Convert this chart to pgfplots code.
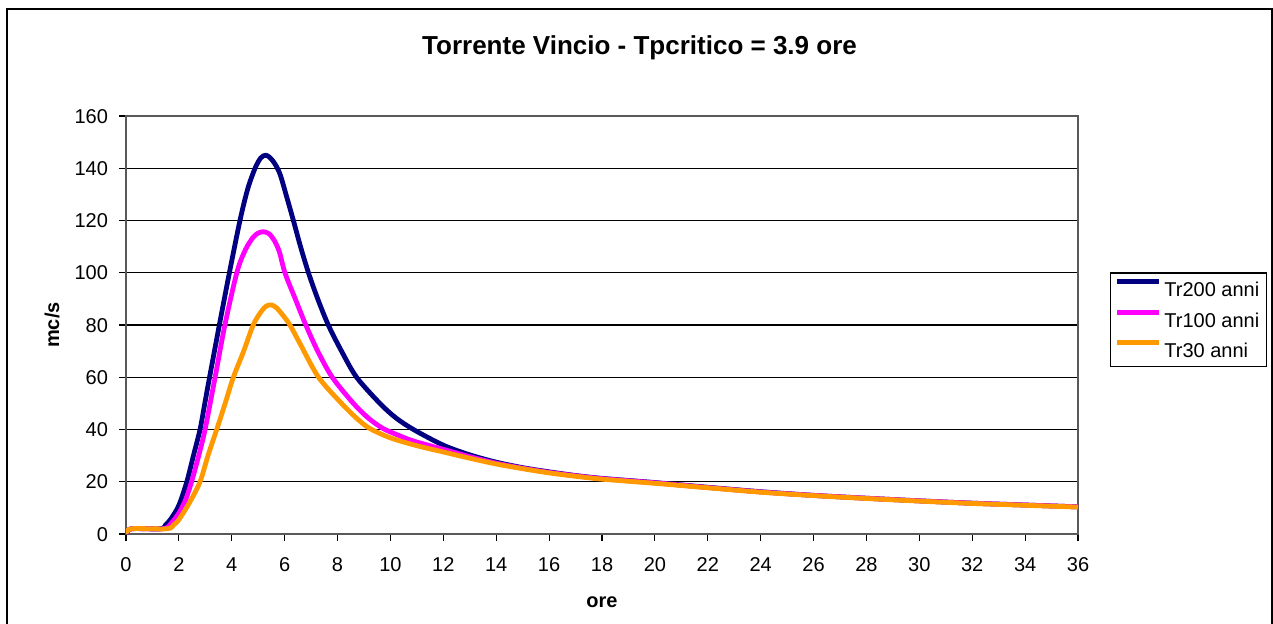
\documentclass[border=0pt]{standalone}
\usepackage{pgfplots}
\pgfplotsset{compat=1.18}
\usepackage{fontspec}
\setmainfont{Liberation Sans}

\definecolor{trduecento}{HTML}{000080}
\definecolor{trcento}{HTML}{FF00FF}
\definecolor{trtrenta}{HTML}{FF9900}

\begin{document}
\begin{tikzpicture}
\useasboundingbox (0,0) rectangle (636.5pt,-311.5pt);
% cornice esterna (il lato inferiore e' tagliato)
\draw[line width=1pt] (3.4pt,-320pt) -- (3.4pt,-4.6pt) -- (635.8pt,-4.6pt) -- (635.8pt,-320pt);

\begin{axis}[
    at={(63pt,-267pt)}, anchor=south west,
    scale only axis,
    width=476pt, height=209pt,
    xmin=0, xmax=36,
    ymin=0, ymax=160,
    xtick={0,2,...,36},
    ytick={0,20,...,160},
    xtick pos=bottom, ytick pos=left,
    tick align=outside,
    major tick length=3.5pt,
    tick style={black, line width=0.6pt},
    ymajorgrids=true,
    grid style={black, line width=0.6pt},
    axis line style={gray!70!black, line width=0.8pt},
    ticklabel style={font=\fontsize{10}{12}\selectfont, text height=7.2pt, text depth=0pt},
    xticklabel style={yshift=-4.5pt},
    yticklabel style={xshift=-2pt},
    /pgf/number format/assume math mode=true,
    legend cell align=left,
    legend style={
        at={(1.0336,0.626)}, anchor=north west,
        draw=black, line width=0.6pt,
        font=\fontsize{10}{12}\selectfont,
        inner xsep=2pt, inner ysep=2.8pt,
        row sep=4.75pt,
        nodes={inner sep=1.5pt, text height=7.5pt, text depth=0pt},
    },
    legend image code/.code={\draw[#1] (0pt,3.7pt) -- (21pt,3.7pt);},
    every axis plot/.append style={line width=2.4pt, line join=round, smooth},
]

\addplot[trduecento] coordinates {
(0,0) (0.2,2) (1.3,2) (1.5,3.5) (1.7,5.8) (2.0,11) (2.3,20) (2.55,30)
(2.8,40) (2.98,50) (3.16,60) (3.53,80) (3.91,100) (4.31,120) (4.6,132)
(4.88,140) (5.1,144) (5.3,145) (5.5,143.5) (5.7,140.5) (5.85,137)
(6.05,130) (6.33,120) (6.6,110) (6.9,100) (7.25,90) (7.65,80) (8.15,70)
(8.72,60) (9.6,50) (10.2,44.5) (10.87,40) (12,34) (13,30.3) (14,27.5)
(15,25.4) (16,23.8) (17,22.4) (18,21.3) (20,19.7) (22,17.9) (24,16.2)
(26,14.8) (28,13.7) (30,12.7) (32,11.8) (34,11.1) (36,10.4)
};

\addplot[trcento] coordinates {
(0,0) (0.2,2) (1.4,2) (1.7,4) (2.0,8) (2.25,13) (2.48,20) (2.75,30)
(2.99,40) (3.37,60) (3.74,80) (4.19,100) (4.5,108.5) (4.8,113.5)
(5.0,115.2) (5.19,115.7) (5.4,115) (5.6,112.5) (5.8,108) (6.01,100)
(6.4,90) (6.8,80) (7.25,70) (7.8,60) (8.6,50) (9.15,44.5) (9.7,40.5)
(10.3,37.8) (10.87,35.6) (12,32.4) (13,29.6) (14,27.1) (15,25.2)
(16,23.6) (17,22.3) (18,21.2) (20,19.6) (22,17.8) (24,16.1) (26,14.8)
(28,13.7) (30,12.7) (32,11.8) (34,11.1) (36,10.4)
};

\addplot[trtrenta] coordinates {
(0,0) (0.2,2) (1.55,2) (1.8,3.5) (2.0,5.5) (2.4,12) (2.8,20) (3.1,30)
(3.43,40) (3.75,50) (4.06,60) (4.45,70) (4.81,80) (5.1,85) (5.3,87.2)
(5.5,87.7) (5.7,86.5) (5.95,83.5) (6.2,80) (6.6,72.5) (7.28,60)
(8.15,50) (8.7,44.5) (9.2,40.5) (10,36.8) (11,33.8) (12,31.4) (13,29)
(14,26.8) (15,25) (16,23.4) (17,22.1) (18,21) (20,19.4) (22,17.7)
(24,16) (26,14.7) (28,13.6) (30,12.6) (32,11.7) (34,11) (36,10.3)
};

\legend{Tr200 anni, Tr100 anni, Tr30 anni}
\end{axis}

\node[anchor=base, font=\bfseries\fontsize{13}{15}\selectfont] at (319.75pt,-27pt) {Torrente Vincio - Tpcritico = 3.9 ore};
\node[anchor=base, font=\bfseries\fontsize{10}{12}\selectfont] at (301pt,-303.5pt) {ore};
\node[rotate=90, font=\bfseries\fontsize{10}{12}\selectfont] at (26pt,-162.5pt) {mc/s};
\end{tikzpicture}
\end{document}
